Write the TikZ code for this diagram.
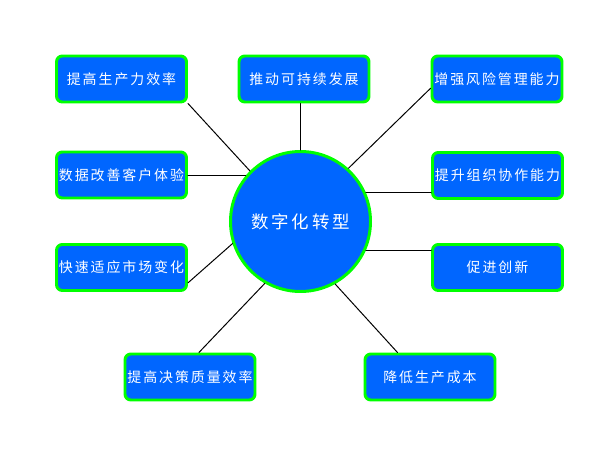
\documentclass[tikz,border=0pt]{standalone}
\usepackage{fontspec}
\newfontfamily\cjkfont[LetterSpace=14]{Noto Sans CJK SC}
\newfontfamily\cjkbigfont[LetterSpace=16]{Noto Sans CJK SC}
\definecolor{boxblue}{HTML}{0066FF}
\definecolor{boxgreen}{HTML}{00FF00}
\tikzset{
  every picture/.style={line join=round, line cap=round},
  goalbox/.style={rectangle, rounded corners=5pt, draw=boxgreen, line width=2.55pt, fill=boxblue, text=white,
    minimum width=3.9cm, minimum height=1.38cm, inner sep=0pt, font=\cjkfont\fontsize{11.9}{14}\selectfont},
  hubnode/.style={circle, draw=boxgreen, line width=2.55pt, fill=boxblue, text=white,
    minimum size=4.2cm, inner sep=0pt, font=\cjkbigfont\fontsize{14.9}{18}\selectfont},
  link/.style={draw=black, line width=0.85pt},
}

\begin{document}
\begin{tikzpicture}
\useasboundingbox (0,0) rectangle (18,13.5);
\node[hubnode] (hub) at (9.015,6.855) {数字化转型};
\node[goalbox] (prod) at (3.645,11.130) {提高生产力效率};
\node[goalbox] (sust) at (9.120,11.130) {推动可持续发展};
\node[goalbox] (risk) at (14.910,11.130) {增强风险管理能力};
\node[goalbox] (cust) at (3.645,8.250) {数据改善客户体验};
\node[goalbox] (team) at (14.925,8.235) {提升组织协作能力};
\node[goalbox] (mark) at (3.645,5.475) {快速适应市场变化};
\node[goalbox] (innov) at (14.925,5.475) {促进创新};
\node[goalbox] (deci) at (5.700,2.190) {提高决策质量效率};
\node[goalbox] (cost) at (12.900,2.190) {降低生产成本};
\draw[link] (prod.south east) -- (hub.135);
\draw[link] (hub.north) -- (hub.north |- sust.south);
\draw[link] (risk.188) -- (hub.48);
\draw[link] (cust.east) -- (cust.east -| hub.140);
\draw[link] (hub.24) -- (hub.24 -| team.west);
\draw[link] (mark.-13) -- (hub.198);
\draw[link] (hub.-24) -- (hub.-24 -| innov.west);
\draw[link] (deci.70) -- (hub.240);
\draw[link] (hub.-61) -- (cost.143);
\end{tikzpicture}
\end{document}
